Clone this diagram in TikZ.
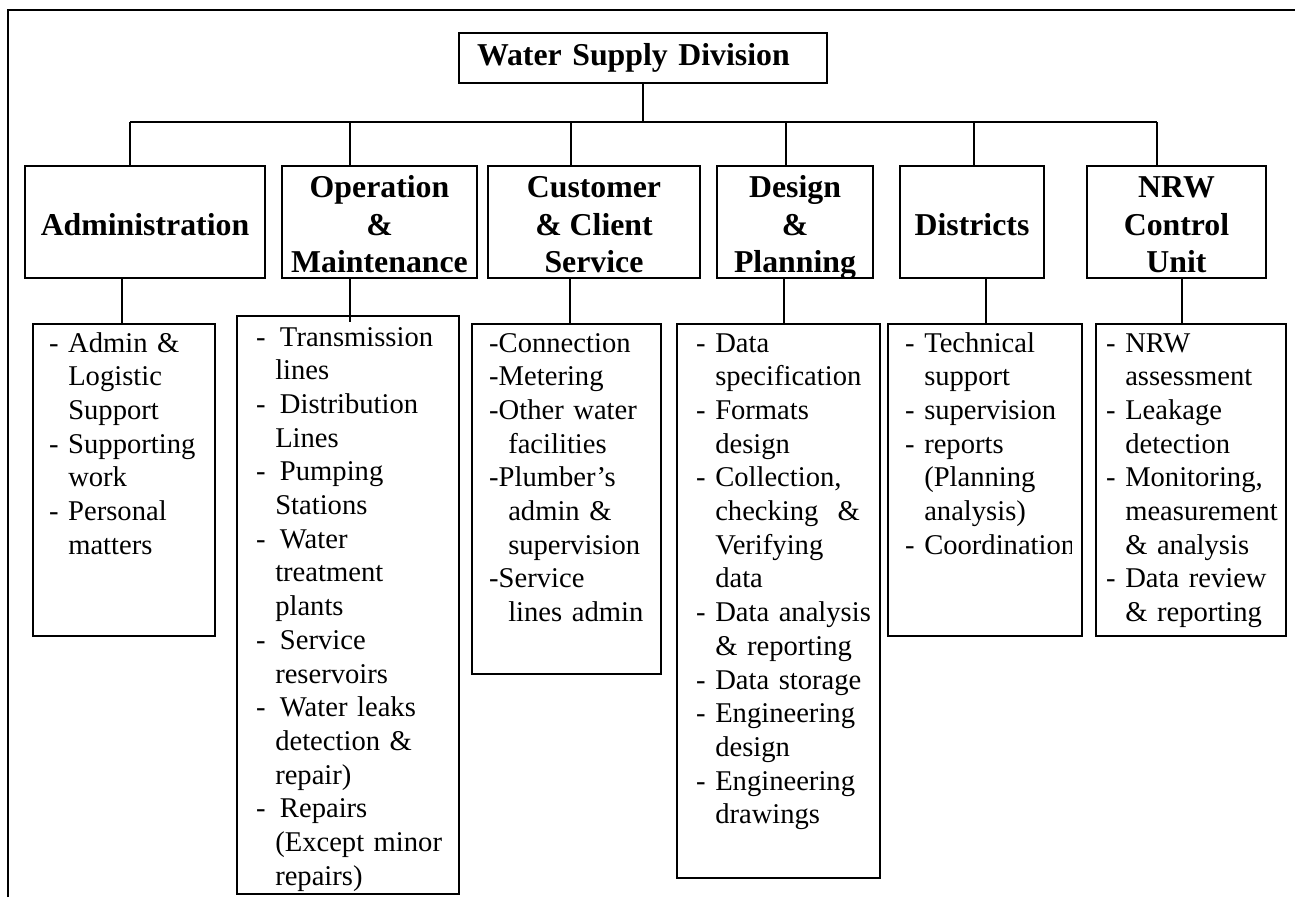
\documentclass[tikz,border=0pt]{standalone}
\usepackage{fontspec}
\setmainfont{Liberation Serif}
\usepackage{tikz}
\tikzset{%
  unit/.style={draw,line width=1.9pt,minimum height=112pt,inner sep=0pt,align=center,%
    font=\fontsize{31.8}{37.3}\selectfont\bfseries},%
  subbox/.style={draw,line width=1.9pt,inner sep=0pt,anchor=north west},%
  items/.style={anchor=base west,inner sep=0pt,text width=#1,align=left,%
    font=\fontsize{28.6}{33.7}\selectfont},%
  link/.style={line width=1.6pt}%
}
\newcommand{\cont}{\phantom{- }}
\newcommand{\headtop}{\rule{0pt}{31.5pt}}
\newcommand{\headbot}{\rule[-5pt]{0pt}{5pt}}

\begin{document}
\begin{tikzpicture}[x=1pt,y=-1pt]
    \useasboundingbox (0,0) rectangle (1295,897);
    \draw[line width=1.9pt] (8,897) -- (8,10) -- (1295,10);

    \node[draw,line width=1.9pt,minimum height=50pt,inner xsep=18pt,inner ysep=0pt,
      text width=332pt,align=left,font=\fontsize{31.8}{37.3}\selectfont\bfseries]
      (wsd) at (643,58) {Water Supply Division};

    \node[unit,minimum width=240pt] (adm) at (145,222) {\headtop Administration\headbot};
    \node[unit,minimum width=195pt] (om) at (379.5,222)
      {\headtop Operation\\\&\\Maintenance\headbot};
    \node[unit,minimum width=212pt] (cust) at (594,222)
      {\headtop Customer\\\& Client\\Service\headbot};
    \node[unit,minimum width=156pt] (dp) at (795,222)
      {\headtop Design\\\&\\\raisebox{0pt}[\height][0pt]{Planning}\headbot};
    \node[unit,minimum width=144pt] (dist) at (972,222) {\headtop Districts\headbot};
    \node[unit,minimum width=179pt] (nrw) at (1176.5,222)
      {\headtop NRW\\Control\\Unit\headbot};

    \coordinate (bus) at (0,122);
    \draw[link] (wsd.south) -- (wsd.south |- bus);
    \foreach \n/\x in {adm/130,om/350,cust/571,dp/786,dist/974,nrw/1157}{
      \coordinate (d-\n) at (\x,122);
      \draw[link] (d-\n) -- (d-\n |- \n.north);
    }
    \draw[link] (d-adm) -- (d-nrw);

    \node[subbox,minimum width=182pt,minimum height=312pt] (adm-sub) at (32,323) {};
    \node[subbox,minimum width=222pt,minimum height=578pt] (om-sub) at (236,315) {};
    \node[subbox,minimum width=189pt,minimum height=350pt] (cust-sub) at (471,323) {};
    \node[subbox,minimum width=203pt,minimum height=554pt] (dp-sub) at (676,323) {};
    \node[subbox,minimum width=194pt,minimum height=312pt] (dist-sub) at (887,323) {};
    \node[subbox,minimum width=190pt,minimum height=312pt] (nrw-sub) at (1095,323) {};

    \foreach \n/\x/\o in {adm/122/0,om/350/7,cust/570/0,dp/784/0,dist/986/0,nrw/1182/0}{
      \coordinate (s-\n) at (\x,0);
      \draw[link] (\n.south -| s-\n) -- ([yshift=-\o pt]\n-sub.north -| s-\n);
    }

    \node[items=200pt] (adm-list) at (49,352) {- Admin \&\\\cont Logistic\\\cont Support\\
      - Supporting\\\cont work\\- Personal\\\cont matters};
    \node[items=200pt] (om-list) at (256,346) {- \,Transmission\\\cont lines\\- \,Distribution\\
      \cont Lines\\- \,Pumping\\\cont Stations\\- \,Water\\\cont treatment\\\cont plants\\
      - \,Service\\\cont reservoirs\\- \,Water leaks\\\cont detection \&\\\cont repair)\\
      - \,Repairs\\\cont (Except minor\\\cont repairs)};
    \node[items=200pt] (cust-list) at (489,352) {-Connection\\-Metering\\-Other water\\
      \cont facilities\\-Plumber’s\\\cont admin \&\\\cont supervision\\-Service\\
      \cont lines admin};
    \node[items=200pt] (dp-list) at (696,352) {- Data\\\cont specification\\- Formats\\
      \cont design\\- Collection,\\\cont checking\ \ \&\\\cont Verifying\\\cont data\\
      - Data analysis\\\cont \& reporting\\- Data storage\\- Engineering\\\cont design\\
      - Engineering\\\cont drawings};
    \begin{scope}
      \clip (dist-sub.north west) rectangle ([xshift=-11pt]dist-sub.south east);
      \node[items=200pt] (dist-list) at (905,352) {- Technical\\\cont support\\
        - supervision\\- reports\\\cont (Planning\\\cont analysis)\\- Coordination};
    \end{scope}
    \node[items=200pt] (nrw-list) at (1106,352) {- NRW\\\cont assessment\\- Leakage\\
      \cont detection\\- Monitoring,\\\cont measurement\\\cont \& analysis\\
      - Data review\\\cont \& reporting};
  \end{tikzpicture}
\end{document}
